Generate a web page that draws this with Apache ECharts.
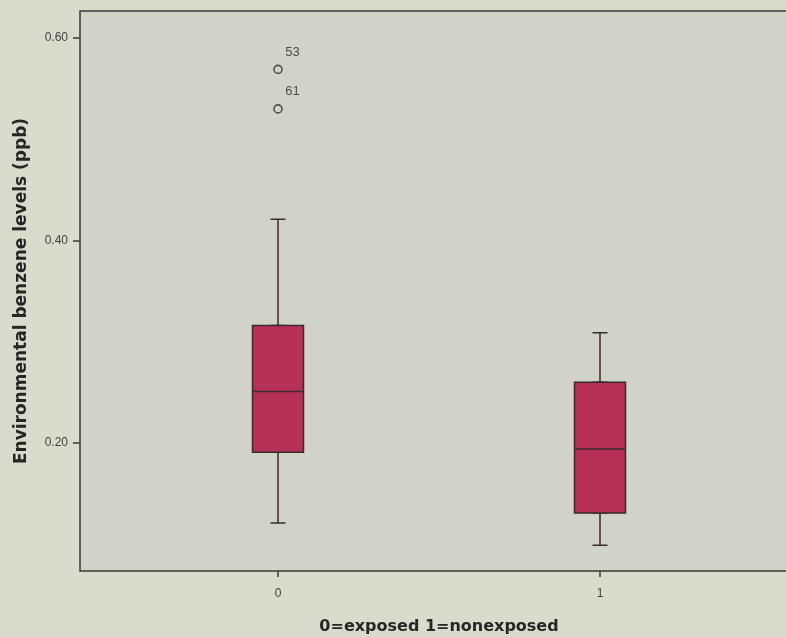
<!DOCTYPE html>
<html><head><meta charset="utf-8">
<script src="https://cdn.jsdelivr.net/npm/echarts@6/dist/echarts.min.js"></script>
<style>html,body{margin:0;padding:0;background:#d9dccd;}#c{width:786px;height:637px;}</style>
</head><body><div id="c"></div>
<script>
const categories = ['0', '1'];
// [min, Q1, median, Q3, max]
const boxValues = [
  [0.121, 0.191, 0.251, 0.316, 0.421],
  [0.099, 0.131, 0.194, 0.260, 0.309]
];
const outliers = [
  { cat: '0', value: 0.569, id: '53' },
  { cat: '0', value: 0.530, id: '61' }
];
const yTicks = [0.2, 0.4, 0.6];
const yMin = 0.0736, yMax = 0.6267;

const chart = echarts.init(document.getElementById('c'));
const font = 'Liberation Sans, Arial, sans-serif';
const titleFont = 'DejaVu Sans, sans-serif';
const boxOnly = boxValues.map(b => [b[1], b[1], b[2], b[3], b[3]]);
const innerGrid = { left: 117, top: 11, width: 644, bottom: 66, outerBoundsMode: 'none', containLabel: false };
chart.setOption({
  backgroundColor: '#d9dccd',
  animation: false,
  grid: [
    { left: 80, top: 11, width: 718, bottom: 66, outerBoundsMode: 'none', containLabel: false,
      show: true, backgroundColor: '#d1d3c9', borderColor: '#3a3a35', borderWidth: 1.5 },
    Object.assign({}, innerGrid),
    Object.assign({}, innerGrid)
  ],
  xAxis: [
    { gridIndex: 0, type: 'value', min: 0, max: 1, show: true,
      axisLine: { show: false }, axisTick: { show: false }, axisLabel: { show: false }, splitLine: { show: false },
      name: '0=exposed 1=nonexposed', nameLocation: 'middle', nameGap: 48,
      nameTextStyle: { fontFamily: titleFont, fontWeight: 'bold', fontSize: 16, color: '#262626' } },
    { gridIndex: 1, type: 'category', data: categories, boundaryGap: true,
      axisLine: { show: false },
      axisTick: { show: true, alignWithLabel: true, length: 6, lineStyle: { color: '#3a3a35', width: 1.5 } },
      axisLabel: { show: true, margin: 17, fontFamily: font, fontSize: 12, color: '#3f3f3f' },
      splitLine: { show: false } },
    { gridIndex: 2, type: 'category', data: categories, boundaryGap: true, show: false }
  ],
  yAxis: [
    { gridIndex: 0, type: 'value', min: yMin, max: yMax,
      axisLine: { show: false },
      axisTick: { show: true, length: 7, customValues: yTicks, lineStyle: { color: '#3a3a35', width: 1.5 } },
      axisLabel: { show: true, customValues: yTicks, margin: 12, fontFamily: font, fontSize: 12, color: '#3f3f3f',
        formatter: v => v.toFixed(2) },
      splitLine: { show: false },
      name: 'Environmental benzene levels (ppb)', nameLocation: 'middle', nameGap: 50,
      nameTextStyle: { fontFamily: titleFont, fontWeight: 'bold', fontSize: 17, color: '#262626' } },
    { gridIndex: 1, type: 'value', min: yMin, max: yMax, show: false },
    { gridIndex: 2, type: 'value', min: yMin, max: yMax, show: false }
  ],
  series: [
    { type: 'boxplot', xAxisIndex: 1, yAxisIndex: 1, data: boxValues,
      boxWidth: [15, 15], z: 2,
      itemStyle: { color: '#b73058', borderColor: '#3b2b2c', borderWidth: 1.5 } },
    { type: 'boxplot', xAxisIndex: 2, yAxisIndex: 2, data: boxOnly,
      boxWidth: [51, 51], z: 3,
      itemStyle: { color: '#b73058', borderColor: '#3b2b2c', borderWidth: 1.5 } },
    { type: 'scatter', xAxisIndex: 1, yAxisIndex: 1, z: 4,
      data: outliers.map(o => ({ value: [o.cat, o.value], name: o.id })),
      symbol: 'circle', symbolSize: 8,
      itemStyle: { color: 'rgba(0,0,0,0)', borderColor: '#2e2e2e', borderWidth: 1.6 },
      label: { show: true, formatter: p => p.name, position: [12, -19], fontFamily: font, fontSize: 13, color: '#2a2a2a' } }
  ]
});
</script></body></html>
